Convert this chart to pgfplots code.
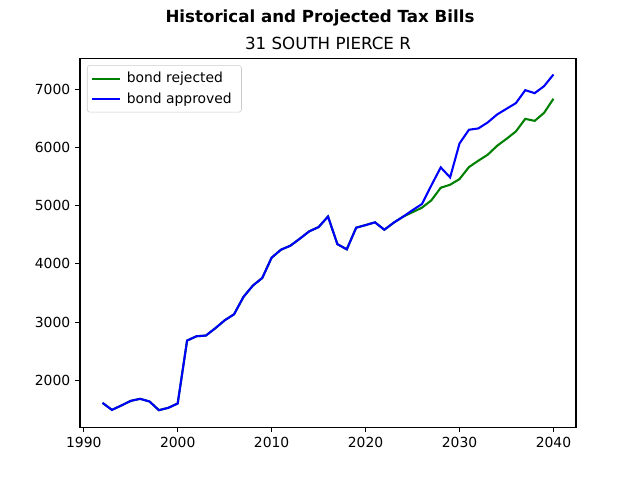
\documentclass[border=0pt]{standalone}
\usepackage{pgfplots}
\pgfplotsset{compat=1.18}
\usepackage{fontspec}
\setmainfont{DejaVu Sans}
\definecolor{mplgreen}{HTML}{008000}
\definecolor{mplblue}{HTML}{0000FF}
\begin{document}
\begin{tikzpicture}
\useasboundingbox (-57.6pt,-38.016pt) rectangle (403.2pt,307.584pt);
\begin{axis}[
  at={(0,0)}, anchor=south west,
  scale only axis, width=357.12pt, height=265.68pt,
  xmin=1989.6, xmax=2042.4, ymin=1192, ymax=7538,
  xtick={1990,2000,2010,2020,2030,2040},
  ytick={2000,3000,4000,5000,6000,7000},
  tick align=outside, tick pos=left,
  major tick length=3.5pt,
  every tick/.style={black, line width=0.8pt},
  axis line style={line width=0.8pt},
  /pgf/number format/assume math mode=true,
  /pgf/number format/1000 sep={},
  tick label style={font=\fontsize{10}{12}\selectfont},
  legend style={at={(0,1)}, anchor=north west, xshift=5pt, yshift=-5pt,
    draw=black!20, rounded corners=2pt, font=\fontsize{10}{12}\selectfont,
    inner xsep=3pt, inner ysep=3pt, row sep=1.5pt,
    nodes={inner xsep=4pt}},
  legend cell align=left,
  legend image code/.code={\draw[#1] (0pt,0pt) -- (20pt,0pt);},
]
\addplot[mplgreen, line width=1.5pt] coordinates {
(1992,1610) (1993,1490) (1994,1565) (1995,1645) (1996,1680) (1997,1634)
(1998,1485) (1999,1525) (2000,1600) (2001,2682) (2002,2756) (2003,2768)
(2004,2893) (2005,3030) (2006,3134) (2007,3432) (2008,3627) (2009,3758)
(2010,4108) (2011,4245) (2012,4314) (2013,4434) (2014,4560) (2015,4634)
(2016,4815) (2017,4340) (2018,4251) (2019,4623) (2020,4668) (2021,4715)
(2022,4588) (2023,4710) (2024,4813) (2025,4890) (2026,4967) (2027,5093)
(2028,5310) (2029,5362) (2030,5459) (2031,5665) (2032,5775) (2033,5878)
(2034,6031) (2035,6151) (2036,6278) (2037,6495) (2038,6460) (2039,6598)
(2040,6840)
};
\addlegendentry{bond rejected}
\addplot[mplblue, line width=1.5pt] coordinates {
(1992,1610) (1993,1490) (1994,1565) (1995,1645) (1996,1680) (1997,1634)
(1998,1485) (1999,1525) (2000,1600) (2001,2682) (2002,2756) (2003,2768)
(2004,2893) (2005,3030) (2006,3134) (2007,3432) (2008,3627) (2009,3758)
(2010,4108) (2011,4245) (2012,4314) (2013,4434) (2014,4560) (2015,4634)
(2016,4815) (2017,4340) (2018,4251) (2019,4623) (2020,4668) (2021,4715)
(2022,4588) (2023,4710) (2024,4813) (2025,4925) (2026,5030) (2027,5350)
(2028,5660) (2029,5488) (2030,6072) (2031,6307) (2032,6330) (2033,6433)
(2034,6570) (2035,6668) (2036,6765) (2037,6988) (2038,6937) (2039,7057)
(2040,7258)
};
\addlegendentry{bond approved}
\end{axis}
\node[anchor=north, font=\fontsize{12}{14}\selectfont\bfseries, inner sep=0pt] at (172.8pt,300.67pt) {Historical and Projected Tax Bills};
\node[anchor=base, font=\fontsize{12}{14}\selectfont, inner sep=0pt] at (178.56pt,271.68pt) {31 SOUTH PIERCE R};
\end{tikzpicture}
\end{document}
